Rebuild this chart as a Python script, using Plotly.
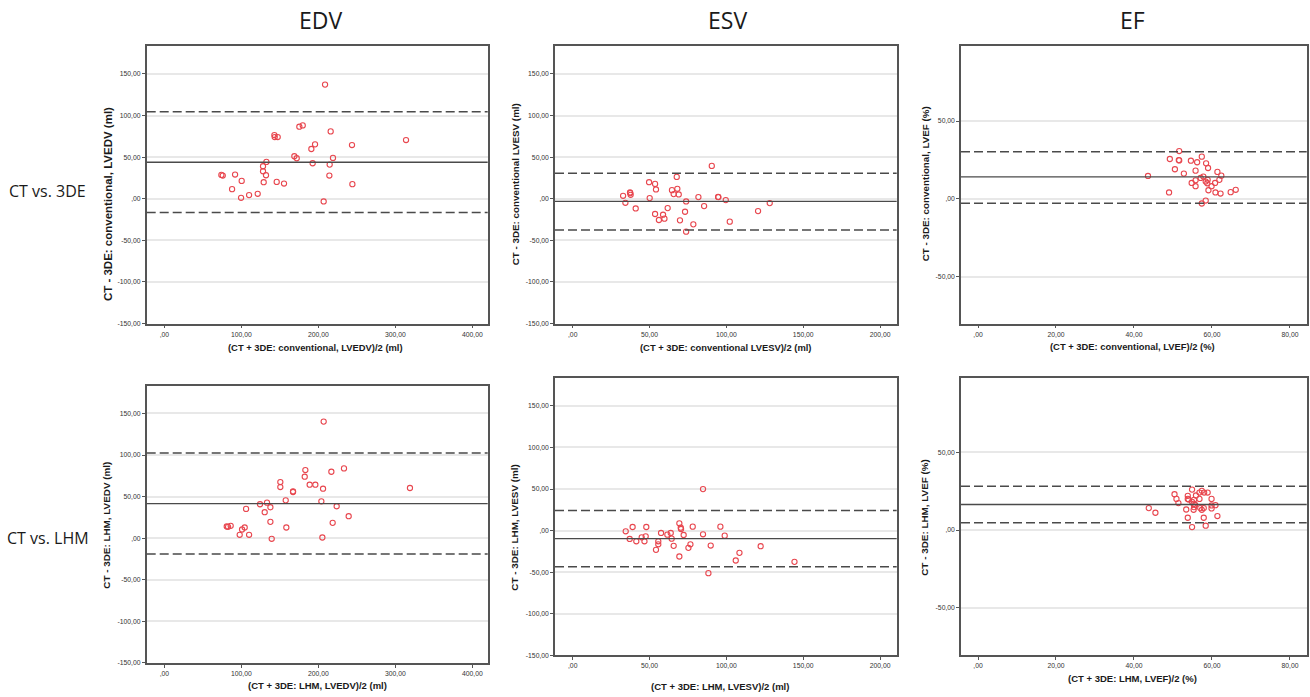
import plotly.graph_objects as go

W, H = 1310, 697

# ---------------- data ----------------
col_titles = ["EDV", "ESV", "EF"]
row_titles = ["CT vs. 3DE", "CT vs. LHM"]

x_titles = [
    "(CT + 3DE: conventional, LVEDV)/2 (ml)",
    "(CT + 3DE: conventional LVESV)/2 (ml)",
    "(CT + 3DE: conventional, LVEF)/2 (%)",
    "(CT + 3DE: LHM, LVEDV)/2 (ml)",
    "(CT + 3DE: LHM, LVESV)/2 (ml)",
    "(CT + 3DE: LHM, LVEF)/2 (%)",
]
y_titles = [
    "CT - 3DE: conventional, LVEDV (ml)",
    "CT - 3DE: conventional LVESV (ml)",
    "CT - 3DE: conventional, LVEF (%)",
    "CT - 3DE: LHM, LVEDV (ml)",
    "CT - 3DE: LHM, LVESV (ml)",
    "CT - 3DE: LHM, LVEF (%)",
]

# tick values / labels
vol_y_ticks = [-150, -100, -50, 0, 50, 100, 150]
vol_y_text = ["-150,00", "-100,00", "-50,00", ",00", "50,00", "100,00", "150,00"]
ef_y_ticks = [-50, 0, 50]
ef_y_text = ["-50,00", ",00", "50,00"]
edv_x_ticks = [0, 100, 200, 300, 400]
edv_x_text = [",00", "100,00", "200,00", "300,00", "400,00"]
esv_x_ticks = [0, 50, 100, 150, 200]
esv_x_text = [",00", "50,00", "100,00", "150,00", "200,00"]
ef_x_ticks = [0, 20, 40, 60, 80]
ef_x_text = [",00", "20,00", "40,00", "60,00", "80,00"]

# Panel 1: EDV, CT vs 3DE conventional
x1 = [208.7, 142.9, 143.3, 147.2, 175.3, 179.7, 216.0, 313.9, 195.7, 190.9, 243.7, 168.8,
      171.9, 219.0, 132.5, 192.6, 214.7, 128.1, 128.1, 132.0, 74.0, 75.8, 91.8, 100.4,
      129.0, 145.9, 155.4, 214.3, 244.2, 87.9, 99.6, 110.0, 121.2, 206.9]
y1 = [137.2, 76.6, 74.2, 74.2, 86.6, 88.2, 81.0, 70.6, 65.4, 59.8, 64.6, 51.1,
      48.7, 49.1, 44.3, 42.7, 41.1, 39.1, 33.1, 28.3, 28.7, 27.9, 29.1, 21.5,
      19.9, 20.3, 18.3, 27.9, 17.6, 11.6, 1.2, 4.4, 6.0, -3.2]

# Panel 2: ESV, CT vs 3DE conventional
x2 = [90.5, 67.7, 49.7, 53.6, 54.2, 68.1, 64.6, 65.7, 69.0, 37.3, 37.5, 37.7,
      32.8, 50.1, 81.8, 94.8, 94.6, 99.6, 73.8, 34.3, 128.2, 85.5, 41.0, 61.8,
      73.1, 120.6, 53.6, 58.8, 56.1, 59.7, 69.8, 102.2, 78.5, 73.8]
y2 = [39.5, 26.3, 19.9, 17.9, 11.2, 12.0, 10.4, 5.6, 5.2, 7.6, 6.8, 4.8,
      3.6, 0.8, 2.0, 2.0, 2.2, -1.6, -3.2, -4.8, -5.2, -8.8, -11.6, -11.2,
      -15.6, -14.8, -18.3, -19.1, -25.5, -23.9, -25.9, -27.5, -30.7, -39.5]

# Panel 3: EF, CT vs 3DE conventional
x3 = [51.6, 57.4, 49.2, 51.5, 51.6, 54.6, 56.2, 58.5, 59.0, 50.5, 55.8, 61.4,
      52.8, 62.4, 43.6, 57.8, 57.1, 58.9, 55.8, 61.9, 58.4, 58.8, 60.8, 54.8,
      59.9, 55.8, 59.1, 66.1, 64.8, 60.9, 62.2, 49.0, 58.4, 57.4]
y3 = [30.7, 27.1, 25.6, 24.9, 24.7, 24.5, 23.5, 22.8, 19.8, 19.0, 18.1, 17.3,
      16.2, 14.9, 14.7, 14.3, 13.4, 12.2, 11.9, 12.2, 11.1, 10.0, 10.2, 10.2,
      8.1, 8.1, 5.5, 5.8, 4.3, 4.1, 3.4, 4.1, -1.1, -3.0]

# Panel 4: EDV, CT vs LHM
x4 = [206.9, 233.3, 183.1, 216.9, 182.3, 150.6, 150.6, 188.7, 196.1, 206.1, 319.0, 167.1,
      167.1, 157.6, 203.9, 124.2, 133.3, 137.7, 223.8, 106.1, 130.3, 239.4, 137.7, 218.6,
      158.4, 81.0, 82.7, 86.1, 104.3, 100.9, 97.8, 110.0, 139.4, 205.2]
y4 = [140.2, 83.9, 81.9, 79.9, 73.9, 67.5, 61.5, 64.3, 64.3, 59.5, 60.3, 56.3,
      55.5, 45.5, 44.3, 40.8, 42.7, 37.2, 38.4, 35.2, 31.2, 26.4, 19.6, 18.4,
      12.8, 14.0, 13.6, 14.8, 12.8, 10.4, 4.0, 4.0, -0.8, 0.8]

# Panel 5: ESV, CT vs LHM
x5 = [84.8, 69.4, 70.3, 70.5, 39.0, 47.9, 78.1, 96.1, 34.5, 57.5, 63.8, 61.6,
      84.8, 72.2, 98.9, 47.5, 44.9, 64.4, 37.1, 41.4, 46.7, 55.7, 55.7, 76.6,
      65.7, 89.8, 122.3, 75.3, 54.2, 108.5, 69.4, 106.1, 144.3, 88.3]
y5 = [49.9, 8.8, 3.6, 2.0, 4.4, 4.4, 4.8, 4.8, -0.8, -2.8, -2.8, -4.8,
      -4.4, -5.2, -6.0, -6.8, -8.0, -9.6, -10.0, -12.8, -12.8, -12.8, -16.4, -16.4,
      -18.3, -17.9, -18.7, -20.7, -23.1, -26.7, -31.1, -35.9, -37.5, -51.1]

# Panel 6: EF, CT vs LHM
x6 = [54.9, 57.4, 56.8, 58.0, 58.9, 50.4, 55.9, 53.8, 53.8, 50.9, 56.8, 59.9,
      54.0, 55.4, 54.9, 51.4, 55.3, 55.7, 60.9, 59.9, 55.4, 43.8, 57.0, 57.9,
      59.9, 53.4, 55.3, 57.4, 45.5, 61.4, 53.8, 57.9, 58.4, 54.9]
y6 = [26.0, 25.2, 24.1, 24.1, 24.1, 23.0, 22.2, 22.0, 20.0, 20.0, 20.0, 20.0,
      19.6, 19.4, 18.1, 17.3, 16.8, 16.2, 16.0, 15.8, 14.7, 14.1, 14.1, 14.1,
      13.9, 13.2, 13.0, 13.0, 11.1, 9.0, 7.9, 7.9, 2.8, 1.9]

# mean difference and limits of agreement per panel
mean_diff = [43.9, -3.2, 14.1, 41.5, -9.6, 16.4]
upper_loa = [104.5, 30.7, 30.3, 102.3, 24.3, 28.1]
lower_loa = [-16.4, -37.5, -2.8, -19.2, -43.5, 4.7]

# ---------------- layout geometry (pixels) ----------------
# (left, right, top, bottom) of each plot box
boxes = [
    (146.7, 487.7, 46.7, 325.0),
    (555.0, 896.7, 46.7, 325.0),
    (961.0, 1306.7, 46.7, 325.0),
    (146.7, 487.7, 387.7, 665.7),
    (555.0, 896.7, 380.0, 658.3),
    (961.0, 1306.7, 379.3, 657.7),
]
x_ranges = [[-23, 420], [-11.5, 210.8], [-4.36, 84.3]] * 2
y_ranges = [[-150, 183], [-150, 183], [-80.2, 97.9]] * 2
x_tick_sets = [(edv_x_ticks, edv_x_text), (esv_x_ticks, esv_x_text), (ef_x_ticks, ef_x_text)] * 2
y_tick_sets = [(vol_y_ticks, vol_y_text), (vol_y_ticks, vol_y_text), (ef_y_ticks, ef_y_text)] * 2

xs = [x1, x2, x3, x4, x5, x6]
ys = [y1, y2, y3, y4, y5, y6]

# axis title positions (pixels) and sizes
xtitle_pos = [(315, 349), (725, 349), (1132, 348), (317, 688), (720, 689), (1132, 681)]
ytitle_pos = [(108, 205), (515, 185), (925, 185), (107, 527), (515, 530), (925, 520)]
ytitle_size = [11.5, 9.8, 9.8, 9.9, 9.9, 9.9]
xtitle_size = [9.4, 9.4, 9.4, 9.5, 9.5, 9.5]

fig = go.Figure()

def px_x(p):
    return p / W

def px_y(p):
    return 1 - p / H

MARKER_COLOR = "#e8474f"
AX_COLOR = "#555555"
FONT = "Liberation Sans, Arial, sans-serif"
tick_font = dict(family=FONT, size=6.8, color="#333333")

layout = dict(
    width=W, height=H,
    margin=dict(l=0, r=0, t=0, b=0),
    paper_bgcolor="white", plot_bgcolor="white",
    showlegend=False,
)
shapes = []
annotations = []

for i in range(6):
    n = i + 1
    xa = "x" if n == 1 else f"x{n}"
    ya = "y" if n == 1 else f"y{n}"
    xkey = "xaxis" if n == 1 else f"xaxis{n}"
    ykey = "yaxis" if n == 1 else f"yaxis{n}"
    l, r, t, b = boxes[i]

    fig.add_trace(go.Scatter(
        x=xs[i], y=ys[i], mode="markers", xaxis=xa, yaxis=ya,
        marker=dict(symbol="circle-open", size=5.2, color=MARKER_COLOR,
                    line=dict(width=1.1, color=MARKER_COLOR)),
        hoverinfo="x+y",
    ))

    layout[xkey] = dict(
        domain=[px_x(l), px_x(r)], anchor=ya, range=x_ranges[i],
        tickvals=x_tick_sets[i][0], ticktext=x_tick_sets[i][1],
        ticks="outside", ticklen=3, tickcolor=AX_COLOR, tickwidth=1,
        showgrid=False, zeroline=False,
        showline=True, linecolor=AX_COLOR, linewidth=1.5, mirror=True,
        tickfont=tick_font, fixedrange=True,
    )
    layout[ykey] = dict(
        domain=[px_y(b), px_y(t)], anchor=xa, range=y_ranges[i],
        tickvals=y_tick_sets[i][0], ticktext=y_tick_sets[i][1],
        ticks="outside", ticklen=3, tickcolor=AX_COLOR, tickwidth=1,
        showgrid=True, gridcolor="#e8e8e8", gridwidth=1.5, zeroline=False,
        showline=True, linecolor=AX_COLOR, linewidth=1.5, mirror=True,
        tickfont=tick_font, fixedrange=True,
    )

    # mean line (solid) and limits of agreement (dashed)
    shapes.append(dict(type="line", xref=f"{xa} domain", yref=ya,
                       x0=0, x1=1, y0=mean_diff[i], y1=mean_diff[i],
                       line=dict(color="#4a4a4a", width=1.3)))
    for v in (upper_loa[i], lower_loa[i]):
        shapes.append(dict(type="line", xref=f"{xa} domain", yref=ya,
                           x0=0, x1=1, y0=v, y1=v,
                           line=dict(color="#4a4a4a", width=1.5, dash="9px,4px")))

    # axis titles
    xt = xtitle_pos[i]
    annotations.append(dict(text=f"<b>{x_titles[i]}</b>", xref="paper", yref="paper",
                            x=px_x(xt[0]), y=px_y(xt[1]), xanchor="center", yanchor="middle",
                            showarrow=False,
                            font=dict(family=FONT, size=xtitle_size[i], color="#1a1a1a")))
    yt = ytitle_pos[i]
    annotations.append(dict(text=f"<b>{y_titles[i]}</b>", xref="paper", yref="paper",
                            x=px_x(yt[0]), y=px_y(yt[1]), xanchor="center", yanchor="middle",
                            textangle=-90, showarrow=False,
                            font=dict(family=FONT, size=ytitle_size[i], color="#1a1a1a")))

# column titles
col_pos = [(320, 20), (727, 20), (1132, 20)]
for txt, (cx, cy) in zip(col_titles, col_pos):
    annotations.append(dict(text=txt, xref="paper", yref="paper",
                            x=px_x(cx), y=px_y(cy), xanchor="center", yanchor="middle",
                            showarrow=False,
                            font=dict(family="Open Sans, sans-serif", size=23, color="#1a1a1a")))

# row titles
row_pos = [(47, 192), (48, 540)]
for txt, (cx, cy) in zip(row_titles, row_pos):
    annotations.append(dict(text=txt, xref="paper", yref="paper",
                            x=px_x(cx), y=px_y(cy), xanchor="center", yanchor="middle",
                            showarrow=False,
                            font=dict(family="Open Sans, sans-serif", size=16, color="#1a1a1a")))

layout["shapes"] = shapes
layout["annotations"] = annotations
fig.update_layout(**layout)

fig.write_html(
    "out.html",
    config={"displayModeBar": False},
    post_script="document.body.style.margin='0px';document.body.style.overflow='hidden';",
)
